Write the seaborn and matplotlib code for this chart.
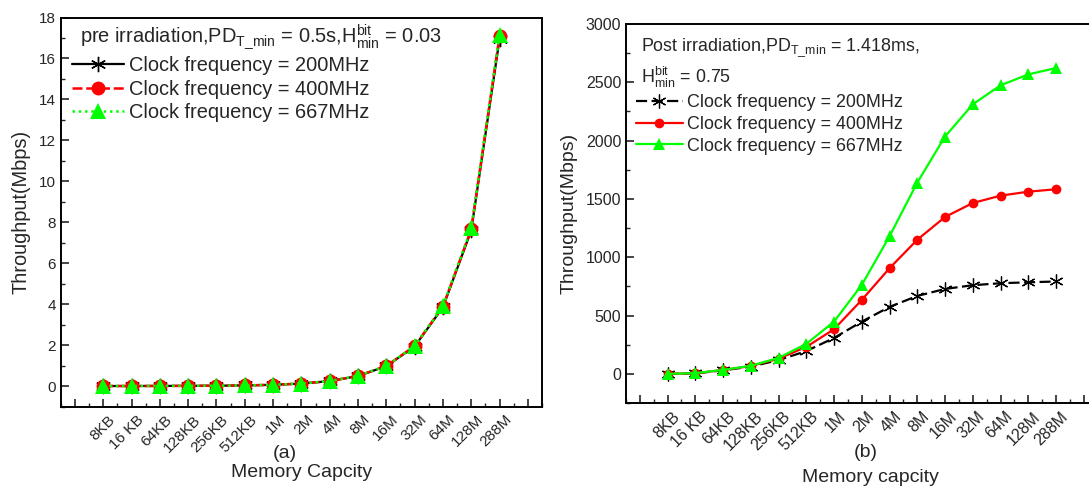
import numpy as np
import pandas as pd
import matplotlib
matplotlib.use("Agg")
import matplotlib.pyplot as plt
import matplotlib.transforms as mtransforms
from matplotlib.ticker import MultipleLocator
import seaborn as sns

# Capacidades de memoria (eje x)
capacity = ['8KB', '16 KB', '64KB', '128KB', '256KB', '512KB', '1M', '2M', '4M',
            '8M', '16M', '32M', '64M', '128M', '288M']

# (a) pre irradiation
pre_200 = [0.0005, 0.001, 0.004, 0.008, 0.015, 0.03, 0.06, 0.12, 0.24, 0.49, 0.97, 1.93, 3.85, 7.6, 16.95]
pre_400 = [0.0005, 0.001, 0.004, 0.008, 0.015, 0.03, 0.06, 0.12, 0.24, 0.49, 0.98, 1.95, 3.88, 7.65, 17.1]
pre_667 = [0.0005, 0.001, 0.004, 0.008, 0.015, 0.03, 0.06, 0.12, 0.24, 0.50, 0.98, 1.96, 3.9, 7.7, 17.15]

# (b) post irradiation
post_200 = [0, 4, 30, 62, 118, 195, 308, 448, 574, 668, 728, 760, 777, 785, 792]
post_400 = [0, 5, 33, 67, 130, 231, 383, 634, 906, 1150, 1345, 1465, 1528, 1562, 1583]
post_667 = [0, 6, 34, 69, 137, 257, 448, 763, 1180, 1640, 2035, 2311, 2474, 2568, 2622]

sns.set_style("ticks")
plt.rcParams['font.family'] = ['Liberation Sans', 'DejaVu Sans']
plt.rcParams['mathtext.fontset'] = 'custom'
plt.rcParams['mathtext.rm'] = 'Liberation Sans'
plt.rcParams['mathtext.it'] = 'Liberation Sans'

W, H = 1089, 486
fig = plt.figure(figsize=(W / 100, H / 100), dpi=100)

ax1 = fig.add_axes([60.8 / W, 1 - 406.5 / H, (542 - 60.8) / W, (406.5 - 17.5) / H])
ax2 = fig.add_axes([626 / W, 1 - 403 / H, (1097.6 - 626) / W, (403 - 24) / H])

x = np.arange(1, len(capacity) + 1)
df_pre = pd.DataFrame({'x': x, 'f200': pre_200, 'f400': pre_400, 'f667': pre_667})
df_post = pd.DataFrame({'x': x, 'f200': post_200, 'f400': post_400, 'f667': post_667})

star = (6, 2, 0)

# Panel (a)
sns.lineplot(data=df_pre, x='x', y='f200', ax=ax1, color='black', lw=1.6, linestyle='-',
             marker=star, markersize=11, markeredgecolor='black', markeredgewidth=1.0,
             label='Clock frequency = 200MHz')
sns.lineplot(data=df_pre, x='x', y='f400', ax=ax1, color='#ff0000', lw=1.8, linestyle=(0, (4, 1.5)),
             marker='o', markersize=10, markeredgecolor='#ff0000', markeredgewidth=0,
             label='Clock frequency = 400MHz')
sns.lineplot(data=df_pre, x='x', y='f667', ax=ax1, color='#00ff00', lw=1.8, linestyle=(0, (1, 1.5)),
             marker='^', markersize=11, markeredgecolor='#00ff00', markeredgewidth=0,
             label='Clock frequency = 667MHz')

# Panel (b)
sns.lineplot(data=df_post, x='x', y='f200', ax=ax2, color='black', lw=1.6, linestyle=(0, (5, 2)),
             marker=star, markersize=10, markeredgecolor='black', markeredgewidth=0.9,
             label='Clock frequency = 200MHz')
sns.lineplot(data=df_post, x='x', y='f400', ax=ax2, color='#ff0000', lw=1.6, linestyle='-',
             marker='o', markersize=7, markeredgecolor='#ff0000', markeredgewidth=0,
             label='Clock frequency = 400MHz')
sns.lineplot(data=df_post, x='x', y='f667', ax=ax2, color='#00ff00', lw=1.6, linestyle='-',
             marker='^', markersize=8, markeredgecolor='#00ff00', markeredgewidth=0,
             label='Clock frequency = 667MHz')

# Estilo de ejes
for ax in (ax1, ax2):
    ax.set_xlim(-0.5, 16.5)
    ax.set_xticks(np.arange(0, 17))
    ax.set_xticklabels([''] + capacity + [''])
    ax.xaxis.set_minor_locator(MultipleLocator(0.5))
    ax.tick_params(axis='both', which='both', direction='in', top=False, right=False)
    ax.tick_params(axis='both', which='major', length=6, width=1.2)
    ax.tick_params(axis='both', which='minor', length=3, width=1.0)
    ax.tick_params(axis='x', which='major', pad=8)
    for sp in ax.spines.values():
        sp.set_visible(True)
        sp.set_linewidth(1.4)
        sp.set_color('black')
    ax.set_xlabel('')
    ax.grid(False)

ax1.set_ylim(-1, 18)
ax1.set_yticks(np.arange(0, 19, 2))
ax1.yaxis.set_minor_locator(MultipleLocator(1))
ax1.tick_params(axis='both', labelsize=11)
ax1.set_ylabel('Throughput(Mbps)', fontsize=14.4, labelpad=6)

ax2.set_ylim(-250, 3000)
ax2.set_yticks(np.arange(0, 3001, 500))
ax2.yaxis.set_minor_locator(MultipleLocator(250))
ax2.tick_params(axis='both', labelsize=11.5)
ax2.set_ylabel('Throughput(Mbps)', fontsize=14, labelpad=6)

# Desplazar las etiquetas rotadas
offset = mtransforms.ScaledTranslation(7 / 72, 0, fig.dpi_scale_trans)
for ax in (ax1, ax2):
    for lab in ax.get_xticklabels():
        lab.set_rotation(45)
        lab.set_ha('right')
        lab.set_va('center')
        lab.set_rotation_mode('anchor')
        lab.set_transform(lab.get_transform() + offset)

# Encabezados de las leyendas
ax1.text(80 / W, 1 - 37 / H,
         r'pre irradiation,PD$_{\mathregular{T\_min}}$ = 0.5s,H$^{\mathregular{bit}}_{\mathregular{min}}$ = 0.03',
         transform=fig.transFigure, fontsize=14.4, va='center', ha='left')
ax2.text(641 / W, 1 - 48 / H,
         r'Post irradiation,PD$_{\mathregular{T\_min}}$ = 1.418ms,',
         transform=fig.transFigure, fontsize=12.9, va='center', ha='left')
ax2.text(641 / W, 1 - 77 / H,
         r'H$^{\mathregular{bit}}_{\mathregular{min}}$ = 0.75',
         transform=fig.transFigure, fontsize=12.9, va='center', ha='left')

ax1.legend(loc='upper left', bbox_to_anchor=(72 / W, 1 - 56 / H), bbox_transform=fig.transFigure,
           frameon=False, fontsize=14.4, handlelength=2.6, handletextpad=0.25,
           labelspacing=0.23, borderpad=0, borderaxespad=0)
ax2.legend(loc='upper left', bbox_to_anchor=(636 / W, 1 - 94 / H), bbox_transform=fig.transFigure,
           frameon=False, fontsize=12.9, handlelength=2.6, handletextpad=0.25,
           labelspacing=0.27, borderpad=0, borderaxespad=0)

# Etiquetas inferiores
fig.text(285 / W, 1 - 453 / H, '(a)', fontsize=14, ha='center', va='center')
fig.text(302 / W, 1 - 472 / H, 'Memory Capcity', fontsize=14, ha='center', va='center')
fig.text(866 / W, 1 - 452 / H, '(b)', fontsize=14, ha='center', va='center')
fig.text(870 / W, 1 - 477 / H, 'Memory capcity', fontsize=14, ha='center', va='center')

fig.savefig('out.png', dpi=100)
